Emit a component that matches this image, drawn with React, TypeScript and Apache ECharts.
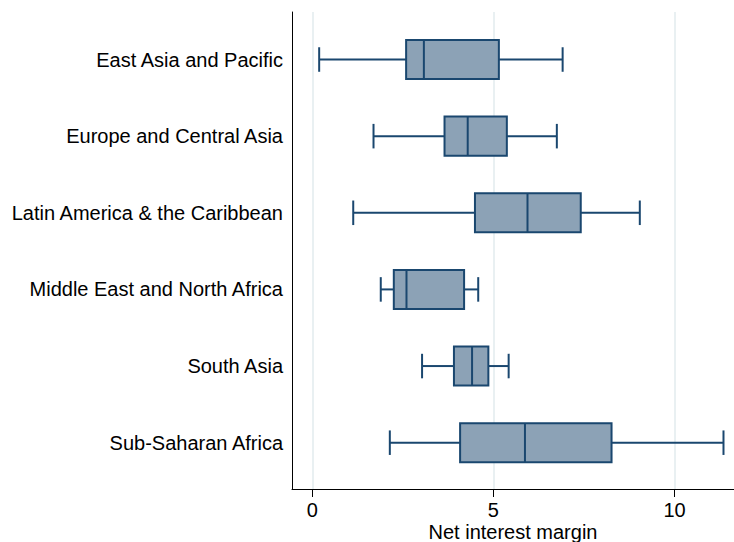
import React, { useEffect, useRef } from "react";
import * as echarts from "echarts";

const categories = [
  "East Asia and Pacific",
  "Europe and Central Asia",
  "Latin America & the Caribbean",
  "Middle East and North Africa",
  "South Asia",
  "Sub-Saharan Africa",
];
const lowerWhisker = [0.19, 1.69, 1.13, 1.89, 3.03, 2.14];
const q1Values = [2.59, 3.65, 4.49, 2.25, 3.91, 4.08];
const medianValues = [3.08, 4.29, 5.94, 2.6, 4.41, 5.87];
const q3Values = [5.15, 5.37, 7.41, 4.19, 4.86, 8.26];
const upperWhisker = [6.91, 6.75, 9.04, 4.58, 5.42, 11.35];
const xTicks = [0, 5, 10];
const xAxisTitle = "Net interest margin";

const NAVY = "#1a476f";
const FILL = "#8ca2b6";
const FONT = "'Liberation Sans', Arial, Helvetica, sans-serif";

export default function App() {
  const ref = useRef<HTMLDivElement>(null);
  useEffect(() => {
    if (!ref.current) return;
    const chart = echarts.init(ref.current, undefined, { renderer: "svg" });
    const data = categories.map((c, i) => [
      i,
      lowerWhisker[i],
      q1Values[i],
      medianValues[i],
      q3Values[i],
      upperWhisker[i],
    ]);
    const xMin = -0.56;
    const xMax = 11.64;
    chart.setOption({
      animation: false,
      backgroundColor: "#ffffff",
      grid: [
        { left: 292, right: 0, top: 21.2, height: 459.8, containLabel: false, outerBoundsMode: "none" },
        { left: 292, right: 0, top: 12, bottom: 53, containLabel: false, outerBoundsMode: "none" },
      ],
      xAxis: [
        { type: "value", gridIndex: 0, min: xMin, max: xMax, show: false },
        {
          type: "value",
          gridIndex: 1,
          min: xMin,
          max: xMax,
          axisLine: { show: true, onZero: false, lineStyle: { color: "#000", width: 1 } },
          axisTick: { show: true, length: 8, customValues: xTicks, lineStyle: { color: "#000", width: 1 } },
          axisLabel: {
            customValues: xTicks,
            margin: 11,
            fontSize: 20,
            fontFamily: FONT,
            color: "#000",
          },
          splitLine: { show: true, lineStyle: { color: "#e2ebee", width: 1.5 } },
          name: xAxisTitle,
          nameLocation: "middle",
          nameGap: 33,
          nameMoveOverlap: false,
          nameTextStyle: { fontSize: 20, fontFamily: FONT, color: "#000", verticalAlign: "top" },
        },
      ],
      yAxis: [
        {
          type: "category",
          gridIndex: 0,
          data: categories,
          inverse: true,
          axisLine: { show: false },
          axisTick: { show: false },
          splitLine: { show: false },
          axisLabel: { margin: 9, fontSize: 20, fontFamily: FONT, color: "#000" },
        },
        {
          type: "value",
          gridIndex: 1,
          min: 0,
          max: 1,
          axisLine: { show: true, onZero: false, lineStyle: { color: "#000", width: 1 } },
          axisTick: { show: false },
          axisLabel: { show: false },
          splitLine: { show: false },
        },
      ],
      series: [
        {
          type: "custom",
          xAxisIndex: 0,
          yAxisIndex: 0,
          data,
          encode: { x: [1, 2, 3, 4, 5], y: 0 },
          renderItem: (params: any, api: any) => {
            const cat = api.value(0);
            const pLo = api.coord([api.value(1), cat]);
            const pQ1 = api.coord([api.value(2), cat]);
            const pMed = api.coord([api.value(3), cat]);
            const pQ3 = api.coord([api.value(4), cat]);
            const pHi = api.coord([api.value(5), cat]);
            const band = api.size([0, 1])[1];
            const bh = band * 0.51;
            const ch = band * 0.32;
            const y = pMed[1];
            const ls = { stroke: NAVY, lineWidth: 2, fill: null };
            return {
              type: "group",
              children: [
                { type: "line", shape: { x1: pLo[0], y1: y, x2: pQ1[0], y2: y }, style: ls },
                { type: "line", shape: { x1: pQ3[0], y1: y, x2: pHi[0], y2: y }, style: ls },
                { type: "line", shape: { x1: pLo[0], y1: y - ch / 2, x2: pLo[0], y2: y + ch / 2 }, style: ls },
                { type: "line", shape: { x1: pHi[0], y1: y - ch / 2, x2: pHi[0], y2: y + ch / 2 }, style: ls },
                {
                  type: "rect",
                  shape: { x: pQ1[0], y: y - bh / 2, width: pQ3[0] - pQ1[0], height: bh },
                  style: { fill: FILL, stroke: NAVY, lineWidth: 2 },
                },
                { type: "line", shape: { x1: pMed[0], y1: y - bh / 2, x2: pMed[0], y2: y + bh / 2 }, style: ls },
              ],
            };
          },
        },
      ],
    });
    return () => chart.dispose();
  }, []);
  return (
    <div
      ref={ref}
      style={{ position: "absolute", left: 0, top: 0, width: 734, height: 542, background: "#fff" }}
    />
  );
}
